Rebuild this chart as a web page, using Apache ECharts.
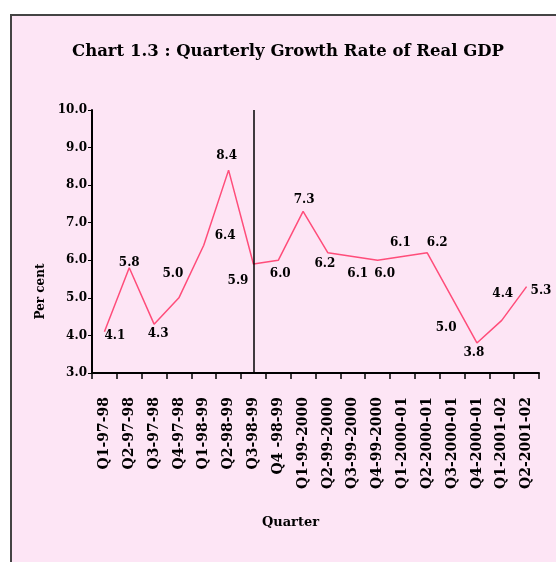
<!DOCTYPE html>
<html>
<head>
<meta charset="utf-8">
<script src="https://cdn.jsdelivr.net/npm/echarts@6/dist/echarts.min.js"></script>
<style>
    html, body { margin: 0; padding: 0; background: #fff; }
    #frame {
        position: absolute; left: 10px; top: 14px; width: 560px; height: 560px;
        background: #fde5f5; border-left: 2px solid #444; border-top: 2px solid #444;
    }
    #main { position: absolute; left: 0; top: 0; width: 556px; height: 562px; }
</style>
</head>
<body>
<div id="frame"></div>
<div id="main"></div>
<script>
var quarters = ['Q1-97-98', 'Q2-97-98', 'Q3-97-98', 'Q4-97-98', 'Q1-98-99', 'Q2-98-99',
    'Q3-98-99', 'Q4 -98-99', 'Q1-99-2000', 'Q2-99-2000', 'Q3-99-2000', 'Q4-99-2000',
    'Q1-2000-01', 'Q2-2000-01', 'Q3-2000-01', 'Q4-2000-01', 'Q1-2001-02', 'Q2-2001-02'];
var growth = [4.1, 5.8, 4.3, 5.0, 6.4, 8.4, 5.9, 6.0, 7.3, 6.2, 6.1, 6.0, 6.1, 6.2, 5.0, 3.8, 4.4, 5.3];
var yTicks = [3, 10, 1];
var dividerAt = 'Q3-98-99';

// where each value label sits around its point, plus a nudge
var labelSide = ['right', 'top', 'bottom', 'top', 'right', 'top', 'left', 'bottom', 'top',
    'bottom', 'bottom', 'bottom', 'top', 'top', 'bottom', 'bottom', 'top', 'right'];
var labelNudge = [[-5, 4], [0, 6], [4, -1], [-6, -13], [6, -9], [-2, -3], [0, 17], [2, 3], [1, -1],
    [-3, 0], [5, 6], [7, 3], [-2, -3], [10, 1], [-6, 19], [-3, -1], [1, -16], [-1, 4]];

var points = [];
for (var i = 0; i < growth.length; i++) {
    points.push({value: growth[i], label: {position: labelSide[i]}});
}

var boldFont = {fontFamily: 'DejaVu Serif', fontWeight: 'bold', fontSize: 12, color: '#000'};

var chart = echarts.init(document.getElementById('main'));
chart.setOption({
    backgroundColor: 'transparent',
    animation: false,
    title: {
        text: 'Chart 1.3 : Quarterly Growth Rate of Real GDP',
        left: 283,
        textAlign: 'center',
        top: 38,
        textStyle: {fontFamily: 'DejaVu Serif', fontWeight: 'bold', fontSize: 16.5, color: '#000'}
    },
    grid: {left: 92, right: 17, top: 110, bottom: 189},
    xAxis: {
        type: 'category',
        data: quarters,
        name: 'Quarter',
        nameLocation: 'middle',
        nameGap: 143,
        nameTextStyle: {fontFamily: 'DejaVu Serif', fontWeight: 'bold', fontSize: 13, color: '#000', padding: [0, 50, 0, 0]},
        axisLine: {lineStyle: {color: '#000', width: 2}},
        axisTick: {show: true, length: 6, lineStyle: {color: '#000', width: 1.5}},
        axisLabel: Object.assign({rotate: 90, interval: 0, margin: 24}, boldFont, {fontSize: 14})
    },
    yAxis: {
        type: 'value',
        min: yTicks[0],
        max: yTicks[1],
        interval: yTicks[2],
        name: 'Per cent',
        nameLocation: 'middle',
        nameGap: 36,
        nameTextStyle: {fontFamily: 'DejaVu Serif', fontWeight: 'bold', fontSize: 12, color: '#000', padding: [0, 100, 0, 0]},
        axisLine: {show: true, lineStyle: {color: '#000', width: 2}},
        axisTick: {show: true, length: 4, lineStyle: {color: '#000'}},
        splitLine: {show: false},
        axisLabel: Object.assign({margin: 5, formatter: function (v) { return v.toFixed(1); }}, boldFont)
    },
    series: [{
        type: 'line',
        data: points,
        symbol: 'circle',
        symbolSize: 2,
        showSymbol: true,
        showAllSymbol: true,
        itemStyle: {color: 'rgba(255,77,122,0)', borderWidth: 0},
        lineStyle: {color: '#ff4d7a', width: 1.5},
        label: Object.assign({show: true, distance: 4, formatter: function (p) { return Number(p.value).toFixed(1); }}, boldFont),
        labelLayout: function (params) {
            var n = labelNudge[params.dataIndex];
            return {dx: n[0], dy: n[1], hideOverlap: false};
        },
        markLine: {
            silent: true,
            symbol: 'none',
            label: {show: false},
            lineStyle: {color: '#000', type: 'solid', width: 1.5},
            data: [{xAxis: dividerAt}]
        }
    }]
});
</script>
</body>
</html>
